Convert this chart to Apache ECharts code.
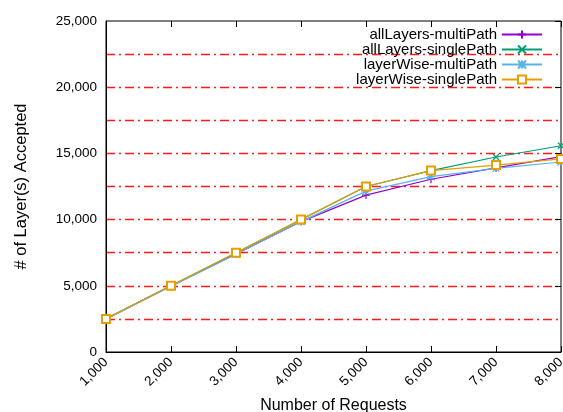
<!DOCTYPE html>
<html>
<head>
<meta charset="utf-8">
<script src="https://cdn.jsdelivr.net/npm/echarts@6/dist/echarts.min.js"></script>
<style>
  html, body { margin: 0; padding: 0; background: #fff; }
  #chart { width: 563px; height: 412px; }
</style>
</head>
<body>
<div id="chart"></div>
<script>
// x values (number of requests)
const requests = [1000, 2000, 3000, 4000, 5000, 6000, 7000, 8000];

const allLayersMulti  = [2500, 5000, 7400, 9850, 11850, 13050, 13900, 14750];
const allLayersSingle = [2500, 5000, 7500, 10000, 12500, 13700, 14730, 15580];
const layerWiseMulti  = [2500, 4950, 7380, 9850, 12150, 13250, 13870, 14350];
const layerWiseSingle = [2500, 5000, 7500, 10000, 12500, 13700, 14120, 14580];

const seriesNames = ["allLayers-multiPath", "allLayers-singlePath", "layerWise-multiPath", "layerWise-singlePath"];
const colors = ["#9400d3", "#009e73", "#56b4e9", "#e69f00"];

const font = "Liberation Sans";

function pairs(arr) {
  return requests.map((x, i) => [x, arr[i]]);
}

function makeSeries(name, data, color, symbol, size) {
  return {
    name: name,
    type: "line",
    data: pairs(data),
    symbol: symbol,
    symbolSize: size,
    showAllSymbol: true,
    lineStyle: { color: color, width: 1.2 },
    itemStyle: { color: color, borderColor: color, borderWidth: 1.2 },
    emphasis: { disabled: true },
    z: 3
  };
}

const chart = echarts.init(document.getElementById("chart"), null, { renderer: "canvas" });

const fmt = v => v.toLocaleString("en-US");

// one legend box per entry so each text ends right next to its sample
const legends = seriesNames.map((name, i) => ({
  orient: "horizontal",
  right: 20,
  top: 27 + i * 15,
  padding: 0,
  align: "right",
  itemWidth: 40,
  itemHeight: 10,
  textStyle: { fontFamily: font, fontSize: 15, color: "#000" },
  data: [name]
}));

// top / right axes only give the inward ticks of the frame
function tickOnly(extra) {
  return Object.assign({
    axisLine: { show: false, onZero: false },
    axisTick: { show: true, inside: true, length: 6, lineStyle: { color: "#000" } },
    axisLabel: { show: false },
    splitLine: { show: false }
  }, extra);
}

chart.setOption({
  animation: false,
  textStyle: { fontFamily: font },
  grid: {
    left: 106, right: 2, top: 21, bottom: 60,
    outerBoundsMode: "none", containLabel: false,
    show: true, borderColor: "#000", borderWidth: 1
  },
  legend: legends,
  xAxis: [
    {
      type: "value",
      min: 1000, max: 8000, interval: 1000,
      name: "Number of Requests",
      nameLocation: "middle",
      nameGap: 46,
      nameTextStyle: { fontFamily: font, fontSize: 16, color: "#000" },
      axisLine: { show: true, onZero: false, lineStyle: { color: "#000", width: 1 } },
      axisTick: { show: true, inside: true, length: 6, lineStyle: { color: "#000" } },
      axisLabel: { rotate: 45, color: "#000", fontSize: 13.5, fontFamily: font, margin: 8, formatter: fmt },
      splitLine: { show: false }
    },
    tickOnly({ type: "value", position: "top", min: 1000, max: 8000, interval: 1000 })
  ],
  yAxis: [
    {
      type: "value",
      min: 0, max: 25000, interval: 2500,
      name: "# of Layer(s) Accepted",
      nameLocation: "middle",
      nameGap: 76,
      nameTextStyle: { fontFamily: font, fontSize: 16.5, color: "#000" },
      axisLine: { show: true, onZero: false, lineStyle: { color: "#000", width: 1 } },
      axisTick: { show: false },
      axisLabel: {
        color: "#000", fontSize: 13.5, fontFamily: font, margin: 9,
        formatter: v => (v % 5000 === 0 ? fmt(v) : "")
      },
      splitLine: {
        show: true,
        showMinLine: false,
        showMaxLine: false,
        lineStyle: { color: "#ff1a1a", width: 1.4, type: [9, 4, 2, 4] }
      }
    },
    tickOnly({ type: "value", position: "right", min: 0, max: 25000, interval: 5000 })
  ],
  series: [
    makeSeries(seriesNames[0], allLayersMulti, colors[0], "path://M5,0L5,10M0,5L10,5", 8),
    makeSeries(seriesNames[1], allLayersSingle, colors[1], "path://M0,0L10,10M10,0L0,10", 6),
    makeSeries(seriesNames[2], layerWiseMulti, colors[2], "path://M0,0L10,10M10,0L0,10M5,0L5,10M0,5L10,5", 7),
    makeSeries(seriesNames[3], layerWiseSingle, colors[3], "emptyRect", 8)
  ]
});
</script>
</body>
</html>
